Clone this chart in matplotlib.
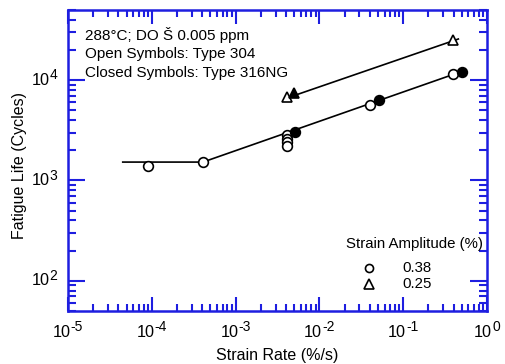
import matplotlib
matplotlib.use("Agg")
import matplotlib.pyplot as plt
import numpy as np

plt.rcParams['font.family'] = ['Liberation Sans', 'DejaVu Sans']
plt.rcParams['mathtext.default'] = 'regular'

# Data
open_circ_x = [9.0e-5, 4.08e-4, 4.07e-3, 4.07e-3, 4.07e-3, 4.07e-3, 0.0398, 0.396]
open_circ_y = [1390, 1545, 2850, 2600, 2410, 2200, 5700, 11450]
closed_circ_x = [5.16e-3, 0.0514, 0.504]
closed_circ_y = [3030, 6310, 12170]
open_tri_x = [4.07e-3, 0.396]
open_tri_y = [6850, 25300]
closed_tri_x = [5.0e-3]
closed_tri_y = [7410]
fit038_x = [4.5e-5, 4.08e-4, 0.5]
fit038_y = [1525, 1525, 12200]
fit025_x = [5.2e-3, 0.455]
fit025_y = [7100, 25700]

x_tick_exps = [-5, -4, -3, -2, -1, 0]
y_tick_exps = [2, 3, 4]

info_lines = ["288°C; DO Š 0.005 ppm", "Open Symbols: Type 304", "Closed Symbols: Type 316NG"]
legend_title = "Strain Amplitude (%)"
legend_labels = ["0.38", "0.25"]

W, H = 505, 364
fig = plt.figure(figsize=(W/100, H/100), dpi=100)
ax = fig.add_axes([68/W, 1-311/H, (487-68)/W, (311-10)/H])

ax.plot(fit038_x, fit038_y, color='black', lw=1.2, zorder=2)
ax.plot(fit025_x, fit025_y, color='black', lw=1.2, zorder=2)
ms = 7
ax.plot(open_circ_x, open_circ_y, 'o', mfc='white', mec='black', mew=1.2, ms=ms, ls='none', zorder=3)
ax.plot(closed_circ_x, closed_circ_y, 'o', mfc='black', mec='black', mew=1.2, ms=ms, ls='none', zorder=3)
ax.plot(open_tri_x, open_tri_y, '^', mfc='white', mec='black', mew=1.2, ms=ms, ls='none', zorder=3)
ax.plot(closed_tri_x, closed_tri_y, '^', mfc='black', mec='black', mew=1.2, ms=ms, ls='none', zorder=3)

ax.set_xscale('log')
ax.set_yscale('log')
ax.set_xlim(1e-5, 1e0)
ax.set_ylim(50, 5e4)

blue = '#1e1ee0'
for s in ax.spines.values():
    s.set_color(blue)
    s.set_linewidth(1.8)
ax.xaxis.set_major_locator(matplotlib.ticker.FixedLocator([10.0**e for e in x_tick_exps]))
ax.yaxis.set_major_locator(matplotlib.ticker.FixedLocator([10.0**e for e in y_tick_exps]))
ax.xaxis.set_minor_locator(matplotlib.ticker.LogLocator(base=10, subs=np.arange(2, 10), numticks=20))
ax.yaxis.set_minor_locator(matplotlib.ticker.LogLocator(base=10, subs=np.arange(2, 10), numticks=20))
ax.tick_params(which='both', direction='in', top=True, right=True, color=blue, width=1.5,
               labelbottom=False, labelleft=False)
ax.tick_params(axis='x', which='major', length=10)
ax.tick_params(axis='x', which='minor', length=5)
ax.tick_params(axis='y', which='major', length=12.5)
ax.tick_params(axis='y', which='minor', length=6)

# custom tick labels (10 with large superscript)
renderer = fig.canvas.get_renderer()
base_fs, sup_fs = 11.7, 10
def px_to_fig(px, py):
    return px / W, 1 - py / H

for e in x_tick_exps:
    xd, _ = ax.transData.transform((10.0**e, 1))
    t1 = fig.text(0, 0, "10", fontsize=base_fs, va='baseline', ha='left')
    t2 = fig.text(0, 0, str(e).replace('-', '-'), fontsize=sup_fs, va='baseline', ha='left')
    w1 = t1.get_window_extent(renderer).width
    w2 = t2.get_window_extent(renderer).width
    left = xd - (w1 + w2) / 2
    t1.set_position((left / W, 1 - 337 / H))
    t2.set_position(((left + w1) / W, 1 - 331.3 / H))

for e in y_tick_exps:
    _, yd = ax.transData.transform((1, 10.0**e))
    ypx = H - yd
    t1 = fig.text(0, 0, "10", fontsize=base_fs, va='baseline', ha='left')
    t2 = fig.text(0, 0, str(e), fontsize=sup_fs, va='baseline', ha='left')
    w1 = t1.get_window_extent(renderer).width
    w2 = t2.get_window_extent(renderer).width
    right = 57.5
    t1.set_position(((right - w2 - w1) / W, 1 - (ypx + 4.6) / H))
    t2.set_position(((right - w2) / W, 1 - (ypx - 0.7) / H))

fig.text(277.5 / W, 1 - 360 / H, "Strain Rate (%/s)", fontsize=11.5, ha='center', va='baseline')
fig.text(20 / W, 1 - 166 / H, "Fatigue Life (Cycles)", fontsize=11.5, ha='center', va='center', rotation=90)

for i, t in enumerate(info_lines):
    fig.text(85 / W, 1 - (35 + 19 * i) / H, t, fontsize=11, va='center', ha='left')

fig.text(414 / W, 1 - 244 / H, legend_title, fontsize=10.8, ha='center', va='center')
fig.text(402 / W, 1 - 267.5 / H, legend_labels[0], fontsize=10.8, ha='left', va='center')
fig.text(402 / W, 1 - 284 / H, legend_labels[1], fontsize=10.8, ha='left', va='center')
fig.lines.append(matplotlib.lines.Line2D([369 / W], [1 - 267.5 / H], marker='o', mfc='white', mec='black',
                                         mew=1.2, ms=5.8, transform=fig.transFigure))
fig.lines.append(matplotlib.lines.Line2D([369 / W], [1 - 284 / H], marker='^', mfc='white', mec='black',
                                         mew=1.2, ms=6.5, transform=fig.transFigure))

fig.savefig("out.png", dpi=100)
